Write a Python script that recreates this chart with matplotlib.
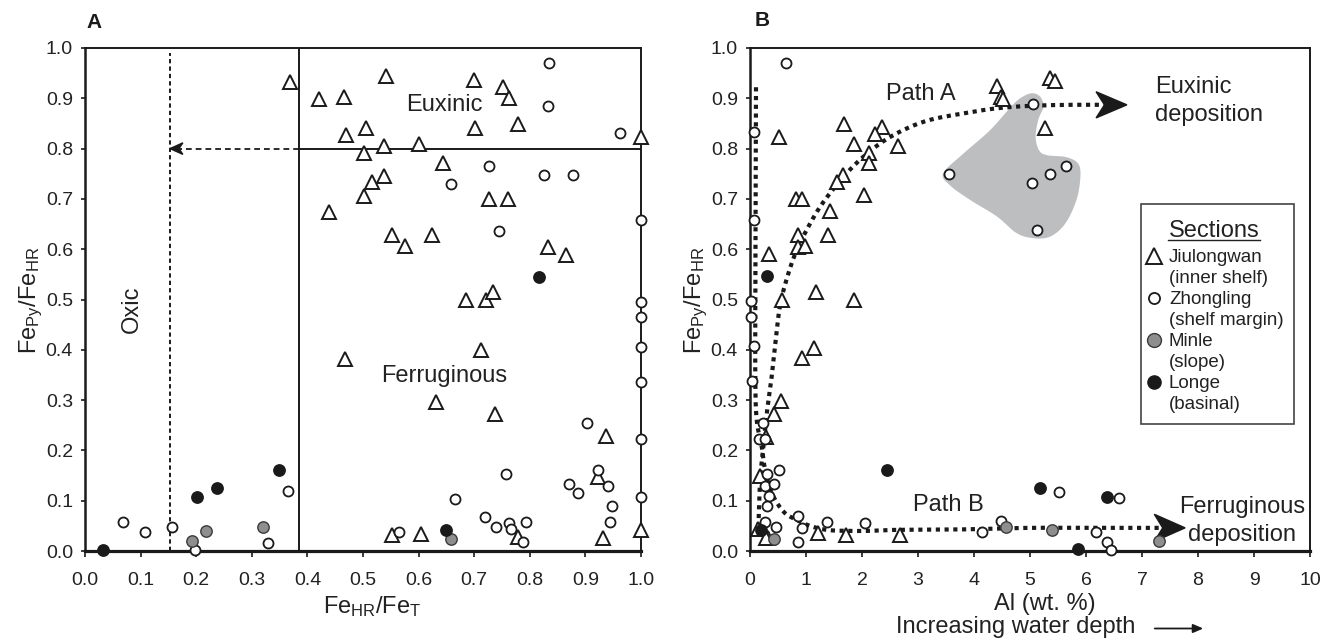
import matplotlib
matplotlib.use('Agg')
import matplotlib.pyplot as plt
import numpy as np
from matplotlib.patches import Polygon, Rectangle
from matplotlib.lines import Line2D

plt.rcParams['font.family'] = ['Liberation Sans', 'DejaVu Sans']
plt.rcParams['mathtext.fontset'] = 'custom'
plt.rcParams['mathtext.rm'] = 'Liberation Sans'
plt.rcParams['mathtext.it'] = 'Liberation Sans:italic'
plt.rcParams['mathtext.bf'] = 'Liberation Sans:bold'

# ---------------- data: panel A (FeHR/FeT vs FePy/FeHR) ----------------
jiu_a_x = [0.369, 0.421, 0.466, 0.541, 0.505, 0.469, 0.537, 0.501, 0.537, 0.517,
           0.501, 0.438, 0.553, 0.699, 0.752, 0.763, 0.702, 0.779, 1.000, 0.600,
           0.643, 0.727, 0.760, 0.576, 0.624, 0.833, 0.866, 0.686, 0.721, 0.734,
           1.000, 0.712, 0.631, 0.737, 0.937, 0.922, 0.553, 0.605, 0.778, 0.931,
           0.468]
jiu_a_y = [0.933, 0.898, 0.902, 0.944, 0.841, 0.827, 0.805, 0.791, 0.746, 0.734,
           0.706, 0.674, 0.628, 0.936, 0.922, 0.901, 0.841, 0.848, 0.824, 0.809,
           0.771, 0.699, 0.699, 0.606, 0.628, 0.604, 0.589, 0.500, 0.500, 0.515,
           0.042, 0.400, 0.297, 0.272, 0.229, 0.147, 0.032, 0.034, 0.027, 0.025,
           0.381]
zho_a_x = [0.835, 0.832, 0.963, 0.726, 0.658, 0.826, 0.877, 0.745, 1.000, 1.000,
           1.000, 1.000, 1.000, 1.000, 1.000, 0.902, 0.757, 0.922, 0.871, 0.941,
           0.887, 0.665, 0.948, 0.719, 0.793, 0.762, 0.944, 0.739, 0.766, 0.565,
           0.787, 0.366, 0.069, 0.108, 0.157, 0.198, 0.330]
zho_a_y = [0.971, 0.885, 0.832, 0.765, 0.730, 0.748, 0.748, 0.637, 0.658, 0.496,
           0.465, 0.406, 0.335, 0.222, 0.108, 0.254, 0.154, 0.161, 0.133, 0.130,
           0.116, 0.104, 0.090, 0.068, 0.058, 0.056, 0.058, 0.047, 0.044, 0.037,
           0.017, 0.119, 0.058, 0.037, 0.047, 0.002, 0.015]
min_a_x = [0.217, 0.192, 0.320, 0.658]
min_a_y = [0.040, 0.020, 0.047, 0.023]
lon_a_x = [0.816, 0.349, 0.237, 0.201, 0.033, 0.649]
lon_a_y = [0.544, 0.161, 0.126, 0.108, 0.002, 0.042]

# ---------------- data: panel B (Al wt.% vs FePy/FeHR) ----------------
jiu_b_x = [0.51, 4.41, 4.48, 4.52, 1.68, 2.35, 2.24, 1.85, 2.65, 2.13,
           2.13, 1.66, 1.56, 2.04, 0.83, 0.92, 1.42, 0.85, 1.40, 0.86,
           0.99, 0.345, 0.57, 1.18, 1.85, 5.36, 5.45, 5.27, 0.92, 1.14,
           0.55, 0.42, 0.29, 0.18, 0.14, 1.21, 1.71, 2.68, 0.33, 0.29]
jiu_b_y = [0.824, 0.924, 0.903, 0.898, 0.849, 0.842, 0.829, 0.809, 0.806, 0.792,
           0.771, 0.748, 0.734, 0.708, 0.700, 0.700, 0.675, 0.628, 0.628, 0.605,
           0.606, 0.590, 0.500, 0.515, 0.500, 0.940, 0.935, 0.840, 0.383, 0.403,
           0.298, 0.272, 0.227, 0.150, 0.043, 0.035, 0.032, 0.032, 0.025, 0.025]
zho_b_x = [0.64, 0.07, 0.07, 0.01, 0.01, 0.07, 0.04, 0.24, 0.16, 0.27,
           0.52, 0.30, 0.27, 0.42, 0.34, 0.30, 0.27, 0.46, 0.85, 0.93,
           0.85, 1.38, 2.05, 4.14, 4.48, 5.51, 6.59, 6.18, 6.37, 6.44,
           5.05, 5.65, 5.35, 5.03, 5.13, 3.55]
zho_b_y = [0.971, 0.833, 0.659, 0.498, 0.465, 0.408, 0.337, 0.254, 0.222, 0.222,
           0.162, 0.154, 0.130, 0.133, 0.109, 0.090, 0.058, 0.048, 0.070, 0.045,
           0.017, 0.058, 0.055, 0.038, 0.060, 0.118, 0.105, 0.037, 0.017, 0.002,
           0.889, 0.766, 0.749, 0.731, 0.638, 0.749]
min_b_x = [0.42, 4.57, 5.40, 7.31]
min_b_y = [0.023, 0.048, 0.042, 0.020]
lon_b_x = [0.30, 2.44, 0.20, 5.18, 6.37, 5.86]
lon_b_y = [0.547, 0.161, 0.042, 0.126, 0.108, 0.003]

xticks_a = [0.0, 0.1, 0.2, 0.3, 0.4, 0.5, 0.6, 0.7, 0.8, 0.9, 1.0]
xticklabels_a = ['0.0', '0.1', '0.2', '0.3', '0.4', '0.5', '0.6', '0.7', '0.8', '0.9', '1.0']
xticks_b = [0, 1, 2, 3, 4, 5, 6, 7, 8, 9, 10]
xticklabels_b = ['0', '1', '2', '3', '4', '5', '6', '7', '8', '9', '10']
yticks = [0.0, 0.1, 0.2, 0.3, 0.4, 0.5, 0.6, 0.7, 0.8, 0.9, 1.0]
yticklabels = ['0.0', '0.1', '0.2', '0.3', '0.4', '0.5', '0.6', '0.7', '0.8', '0.9', '1.0']

legend_labels = [('Jiulongwan', '(inner shelf)'), ('Zhongling', '(shelf margin)'),
                 ('Minle', '(slope)'), ('Longe', '(basinal)')]

# annotation guides (panel B paths and shaded area)
pathA = [(0.15, 0.048), (0.18, 0.141), (0.24, 0.207), (0.30, 0.274), (0.38, 0.34),
         (0.46, 0.42), (0.54, 0.49), (0.68, 0.55), (0.83, 0.597), (1.01, 0.638),
         (1.25, 0.684), (1.55, 0.728), (1.9, 0.771), (2.32, 0.81), (2.74, 0.837),
         (3.21, 0.857), (3.81, 0.870), (4.4, 0.880), (5.0, 0.885), (5.7, 0.887), (6.32, 0.887)]
pathB = [(0.107, 0.922), (0.10, 0.7), (0.095, 0.5), (0.095, 0.34), (0.12, 0.26),
         (0.21, 0.207), (0.27, 0.161), (0.39, 0.115), (0.6, 0.078), (0.83, 0.062),
         (1.07, 0.050), (1.37, 0.042), (1.73, 0.040), (2.11, 0.040), (2.62, 0.042),
         (3.81, 0.043), (5.0, 0.046), (6.2, 0.046), (7.36, 0.046)]
blob = [(3.45, 0.751), (3.81, 0.790), (4.29, 0.837), (4.70, 0.888), (4.90, 0.905),
        (5.06, 0.910), (5.19, 0.902), (5.24, 0.883), (5.15, 0.858), (5.10, 0.824),
        (5.16, 0.797), (5.30, 0.787), (5.65, 0.783), (5.86, 0.770), (5.90, 0.744),
        (5.83, 0.698), (5.63, 0.651), (5.36, 0.625), (5.06, 0.622), (4.76, 0.632),
        (4.41, 0.665), (3.93, 0.698), (3.57, 0.727)]


def catmull(points, closed=False, n=12):
    p = np.asarray(points, float)
    if closed:
        pts = np.vstack([p[-1], p, p[0], p[1]])
    else:
        pts = np.vstack([p[0], p, p[-1]])
    out = []
    for i in range(1, len(pts) - 2):
        p0, p1, p2, p3 = pts[i - 1], pts[i], pts[i + 1], pts[i + 2]
        for t in np.linspace(0, 1, n, endpoint=False):
            t2, t3 = t * t, t * t * t
            out.append(0.5 * ((2 * p1) + (-p0 + p2) * t + (2 * p0 - 5 * p1 + 4 * p2 - p3) * t2
                              + (-p0 + 3 * p1 - 3 * p2 + p3) * t3))
    if not closed:
        out.append(p[-1])
    return np.array(out)


W, H = 1324, 638
fig = plt.figure(figsize=(W / 100, H / 100), dpi=100)


def fx(px):
    return px / W


def fy(py):
    return 1 - py / H


axA = fig.add_axes([fx(85), fy(551), 556 / W, 503 / H])
axB = fig.add_axes([fx(750), fy(551), 560 / W, 503 / H])

INK = '#1a1a1a'
tri_style = dict(marker='^', ms=10, mfc='white', mec=INK, mew=1.4, ls='none', clip_on=False, zorder=5)
cir_style = dict(marker='o', ms=7.2, mfc='white', mec=INK, mew=1.3, ls='none', clip_on=False, zorder=5)
gry_style = dict(marker='o', ms=8.2, mfc='#8e8e8e', mec='#3a3a3a', mew=1.0, ls='none', clip_on=False, zorder=6)
blk_style = dict(marker='o', ms=8.2, mfc=INK, mec=INK, mew=1.0, ls='none', clip_on=False, zorder=6)

for ax, xt, xtl, xlim in [(axA, xticks_a, xticklabels_a, (0, 1)), (axB, xticks_b, xticklabels_b, (0, 10))]:
    ax.set_xlim(*xlim)
    ax.set_ylim(0, 1)
    ax.set_xticks(xt)
    ax.set_xticklabels(xtl)
    ax.set_yticks(yticks)
    ax.set_yticklabels(yticklabels)
    ax.tick_params(axis='x', direction='out', length=4.3, width=1.2, pad=10.5, labelsize=14, color=INK)
    ax.tick_params(axis='y', direction='out', length=3.2, width=1.2, pad=5.5, labelsize=14, color=INK)
    for s in ax.spines.values():
        s.set_color(INK)
        s.set_linewidth(1.4)
    ax.spines['left'].set_linewidth(1.8)
    ax.spines['bottom'].set_linewidth(2.3)
    for lab in ax.get_xticklabels() + ax.get_yticklabels():
        lab.set_color('#222222')

# ---------------- Panel A ----------------
axA.plot(jiu_a_x, jiu_a_y, **tri_style)
axA.plot(zho_a_x, zho_a_y, **cir_style)
axA.plot(min_a_x, min_a_y, **gry_style)
axA.plot(lon_a_x, lon_a_y, **blk_style)

axA.axvline(0.384, color=INK, lw=1.4, zorder=2)
axA.plot([0.384, 1.0], [0.8, 0.8], color=INK, lw=1.4, zorder=2)
axA.plot([0.153, 0.153], [0.0, 0.99], color=INK, lw=1.4, ls=(0, (2.2, 1.6)), zorder=2)
axA.plot([0.384, 0.168], [0.8, 0.8], color=INK, lw=1.3, ls=(0, (3.2, 2.2)), zorder=2)
axA.add_patch(Polygon([(0.153, 0.8), (0.176, 0.8115), (0.169, 0.8), (0.176, 0.7885)],
                      closed=True, color=INK, zorder=3))

axA.text(0.084, 0.48, 'Oxic', rotation=90, ha='center', va='center', fontsize=17, color='#222222')
axA.text(0.646, 0.887, 'Euxinic', ha='center', va='center', fontsize=17, color='#222222')
axA.text(0.646, 0.348, 'Ferruginous', ha='center', va='center', fontsize=17, color='#222222')

# ---------------- Panel B ----------------
bl = catmull(blob, closed=True, n=10)
axB.add_patch(Polygon(bl, closed=True, facecolor='#bdbec0', edgecolor='none', zorder=1))

pa = catmull(pathA, n=10)
pb = catmull(pathB, n=10)
axB.plot(pa[:, 0], pa[:, 1], color=INK, lw=3.0, ls=(0, (1, 1.1)), dash_capstyle='butt', zorder=3)
axB.plot(pb[:, 0], pb[:, 1], color=INK, lw=3.0, ls=(0, (1, 1.1)), dash_capstyle='butt', zorder=3)
axB.add_patch(Polygon([(6.73, 0.887), (6.18, 0.913), (6.33, 0.887), (6.18, 0.861)],
                      closed=True, color=INK, zorder=4))
axB.add_patch(Polygon([(7.77, 0.046), (7.22, 0.073), (7.37, 0.046), (7.22, 0.019)],
                      closed=True, color=INK, zorder=4))

axB.plot(jiu_b_x, jiu_b_y, **tri_style)
axB.plot(zho_b_x, zho_b_y, **cir_style)
axB.plot(min_b_x, min_b_y, **gry_style)
axB.plot(lon_b_x, lon_b_y, **blk_style)

# ---------------- texts in figure pixels ----------------
T = fig.transFigure
TXT = '#222222'
fig.text(fx(94), fy(22.5), 'A', ha='center', va='center', fontsize=15, fontweight='bold', color=INK)
fig.text(fx(762.5), fy(21), 'B', ha='center', va='center', fontsize=15, fontweight='bold', color=INK)

ylab = r'Fe$_\mathrm{Py}$/Fe$_\mathrm{HR}$'
fig.text(fx(31), fy(300), ylab, rotation=90, ha='center', va='center', fontsize=17, color=TXT)
fig.text(fx(696), fy(300), ylab, rotation=90, ha='center', va='center', fontsize=17, color=TXT)
fig.text(fx(372.5), fy(613), r'Fe$_\mathrm{HR}$/Fe$_\mathrm{T}$', ha='center', va='baseline', fontsize=17, color=TXT)
fig.text(fx(1045), fy(610), 'Al (wt. %)', ha='center', va='baseline', fontsize=17, color=TXT)
fig.text(fx(1015.5), fy(627), 'Increasing water depth', ha='center', va='center', fontsize=17, color=TXT)
fig.add_artist(matplotlib.patches.FancyArrowPatch((fx(1152), fy(628.5)), (fx(1206), fy(628.5)),
                                                  transform=T, arrowstyle='-|>,head_length=6,head_width=2.6',
                                                  color=INK, lw=1.3, mutation_scale=1))

fig.text(fx(920.5), fy(94), 'Path A', ha='center', va='center', fontsize=17, color=TXT)
fig.text(fx(948), fy(505), 'Path B', ha='center', va='center', fontsize=17, color=TXT)
fig.text(fx(1155), fy(93), 'Euxinic', ha='left', va='baseline', fontsize=17, color=TXT)
fig.text(fx(1155), fy(121), 'deposition', ha='left', va='baseline', fontsize=17, color=TXT)
fig.text(fx(1242), fy(513), 'Ferruginous', ha='center', va='baseline', fontsize=17, color=TXT)
fig.text(fx(1242), fy(541), 'deposition', ha='center', va='baseline', fontsize=17, color=TXT)

# ---------------- legend (manual) ----------------
fig.add_artist(Rectangle((fx(1141), fy(424)), (1294 - 1141) / W, (424 - 204) / H, transform=T,
                         facecolor='white', edgecolor='#444444', lw=1.2, zorder=7))
fig.text(fx(1214), fy(237), 'Sections', ha='center', va='baseline', fontsize=17, color=TXT, zorder=8)
fig.add_artist(Line2D([fx(1168), fx(1260)], [fy(240.5), fy(240.5)], transform=T, color=TXT, lw=1.0, zorder=8))
leg_styles = [dict(tri_style, ms=12), dict(cir_style, ms=8), dict(gry_style, ms=10), dict(blk_style, ms=9.5)]
baselines = [262, 304, 346, 388]
for (l1, l2), st, b in zip(legend_labels, leg_styles, baselines):
    st = dict(st)
    st['zorder'] = 9
    fig.add_artist(Line2D([fx(1153.5)], [fy(b - 6.5)], transform=T, **st))
    fig.text(fx(1169), fy(b), l1, ha='left', va='baseline', fontsize=13.5, color=TXT, zorder=8)
    fig.text(fx(1169), fy(b + 21), l2, ha='left', va='baseline', fontsize=13.5, color=TXT, zorder=8)

fig.savefig('out.png', dpi=100)
